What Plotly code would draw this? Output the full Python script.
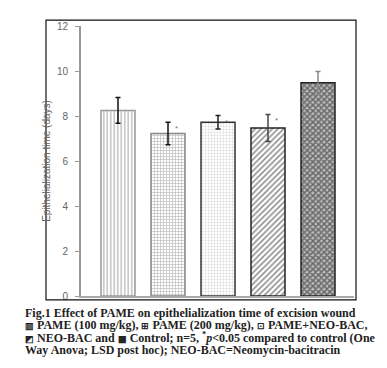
import plotly.graph_objects as go

categories = ["PAME (100 mg/kg)", "PAME (200 mg/kg)", "PAME+NEO-BAC", "NEO-BAC", "Control"]
means = [8.25, 7.22, 7.72, 7.47, 9.48]
errors = [0.57, 0.50, 0.30, 0.60, 0.50]
significant = [False, True, True, True, False]
y_ticks = [0, 2, 4, 6, 8, 10, 12]
y_title = "Epithelialization time (days)"
SYM = '<span style="font-size:9px">{}</span>'
caption_lines = [
    "Fig.1 Effect of PAME on epithelialization time of excision wound",
    SYM.format("\u25a5") + " PAME (100 mg/kg), " + SYM.format("\u229e")
    + " PAME (200 mg/kg), " + SYM.format("\u22a1") + " PAME+NEO-BAC,",
    SYM.format("\u25e9") + " NEO-BAC and " + SYM.format("\u25a9")
    + " Control; n=5, <sup>*</sup><i>p</i>&lt;0.05 compared to control (One",
    "Way Anova; LSD post hoc); NEO-BAC=Neomycin-bacitracin",
]

patterns = [
    dict(shape="|", fgcolor="#8a8a8a", bgcolor="white", size=3.5, solidity=0.45),
    dict(shape="+", fgcolor="#7a7a7a", bgcolor="white", size=3, solidity=0.4),
    dict(shape=".", fgcolor="#b5b5b5", bgcolor="white", size=3, solidity=0.35),
    dict(shape="/", fgcolor="#222222", bgcolor="white", size=4, solidity=0.4),
    dict(shape="x", fgcolor="#111111", bgcolor="#bbbbbb", size=4, solidity=0.6),
]
outline_colors = ["#999999", "#888888", "#333333", "#222222", "#222222"]
err_colors = ["#111111", "#111111", "#222222", "#444444", "#888888"]

fig = go.Figure()
for i, cat in enumerate(categories):
    fig.add_trace(go.Bar(
        x=[cat], y=[means[i]],
        width=0.68,
        marker=dict(pattern=patterns[i], color="white",
                    line=dict(color=outline_colors[i], width=1.5)),
        error_y=dict(type="data", array=[errors[i]], visible=True,
                     color=err_colors[i], thickness=1.5, width=2.5),
        showlegend=False,
    ))
    if significant[i]:
        fig.add_annotation(x=i + 0.09, y=means[i] + errors[i], xref="x", yref="y",
                           text="*", showarrow=False, xanchor="left", yanchor="top",
                           font=dict(size=8, color="#777777", family="Arial"))

fig.update_layout(
    width=387, height=368,
    margin=dict(l=73, r=41, t=15, b=80),
    paper_bgcolor="white", plot_bgcolor="white",
    bargap=0.3,
    xaxis=dict(range=[-0.74, 4.72], showticklabels=False, ticks="",
               showline=True, linecolor="#aaaaaa", linewidth=1.5, showgrid=False,
               zeroline=False),
    yaxis=dict(range=[0, 12], tickvals=y_ticks, ticks="outside", ticklen=4,
               tickcolor="#999999", showline=True, linecolor="#999999", linewidth=2,
               showgrid=False, zeroline=False, ticklabelstandoff=5,
               tickfont=dict(family="Arial", size=10, color="#666666"),
               title=dict(text=y_title, font=dict(family="Arial", size=10, color="#666666"),
                          standoff=4)),
)

# outer frame
fig.add_shape(type="rect", xref="paper", yref="paper",
              x0=(38 - 73) / 273, x1=(348 - 73) / 273,
              y0=(288 - 292) / 273, y1=(288 - 9) / 273,
              line=dict(color="#111111", width=1.2), fillcolor="rgba(0,0,0,0)")

caption_y = [305, 317.5, 330, 342.5]
for txt, py in zip(caption_lines, caption_y):
    fig.add_annotation(x=(15 - 73) / 273, y=(288 - py) / 273, xref="paper", yref="paper",
                       text="<b>" + txt + "</b>", showarrow=False, xanchor="left",
                       yanchor="middle",
                       font=dict(family="Liberation Serif", size=12, color="#222222"))

fig.write_html("out.html")
